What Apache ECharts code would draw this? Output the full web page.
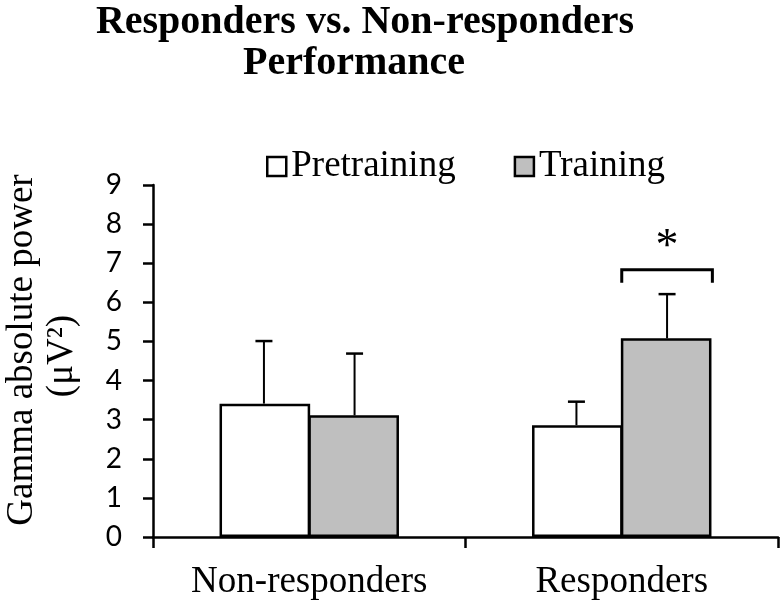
<!DOCTYPE html>
<html>
<head>
<meta charset="utf-8">
<script src="https://cdn.jsdelivr.net/npm/echarts@6/dist/echarts.min.js"></script>
<style>html,body{margin:0;padding:0;background:#fff;}#c{width:781px;height:602px;}</style>
</head>
<body>
<div id="c"></div>
<script>
var categories = ['Non-responders', 'Responders'];
var seriesNames = ['Pretraining', 'Training'];
var pretraining = [3.41, 2.86];
var training = [3.11, 5.08];
var pretrainingErrTop = [5.01, 3.46];
var trainingErrTop = [4.69, 6.21];
var yTicks = [0, 1, 2, 3, 4, 5, 6, 7, 8, 9];
var sigBracketY = [null, 6.83];
var sigBracketLegY = [null, 6.50];
var sigStarY = [null, 7.40];

var BAR_FRAC = 0.29;
var serif = '"Liberation Serif", "Times New Roman", serif';

function errSeries(values, tops, side) {
  return {
    type: 'custom',
    z: 5,
    silent: true,
    data: values.map(function (v, i) { return [i, v, tops[i]]; }),
    renderItem: function (params, api) {
      var cw = api.size([1, 0])[0];
      var bw = cw * BAR_FRAC;
      var base = api.coord([api.value(0), api.value(1)]);
      var top = api.coord([api.value(0), api.value(2)]);
      var x = base[0] + side * bw / 2;
      var cap = 8.5;
      return {
        type: 'group',
        children: [
          { type: 'line', shape: { x1: x, y1: base[1], x2: x, y2: top[1] }, style: { stroke: '#000', lineWidth: 2 } },
          { type: 'line', shape: { x1: x - cap, y1: top[1], x2: x + cap, y2: top[1] }, style: { stroke: '#000', lineWidth: 2.5 } }
        ]
      };
    }
  };
}

var sigData = [];
for (var i = 0; i < categories.length; i++) {
  if (sigBracketY[i] != null) sigData.push([i, sigBracketY[i], sigBracketLegY[i], sigStarY[i]]);
}

var option = {
  animation: false,
  backgroundColor: '#fff',
  grid: { left: 153, right: 3, top: 185, bottom: 65, containLabel: false },
  legend: {
    data: seriesNames,
    left: 261,
    top: 143,
    icon: 'rect',
    itemWidth: 19,
    itemHeight: 19,
    itemGap: 58,
    itemStyle: { borderWidth: 2.5, borderColor: '#000' },
    textStyle: { fontFamily: serif, fontSize: 37, color: '#000' }
  },
  xAxis: {
    type: 'category',
    data: categories,
    axisLine: { lineStyle: { color: '#000', width: 2.5 } },
    axisTick: { show: true, length: 11, alignWithLabel: false, lineStyle: { color: '#000', width: 2.5 } },
    axisLabel: { fontFamily: serif, fontSize: 37, color: '#000', margin: 27 }
  },
  yAxis: {
    type: 'value',
    min: 0,
    max: 9,
    interval: 1,
    splitLine: { show: false },
    axisLine: { show: true, lineStyle: { color: '#000', width: 2.5 } },
    axisTick: { show: true, length: 10, lineStyle: { color: '#000', width: 2.5 } },
    axisLabel: {
      fontFamily: 'Lato, "Open Sans", sans-serif', fontSize: 28, color: '#000', margin: 31,
      formatter: function (v) { return yTicks.indexOf(v) >= 0 ? String(v) : ''; }
    }
  },
  series: [
    {
      name: seriesNames[0], type: 'bar', data: pretraining,
      barWidth: (BAR_FRAC * 100) + '%', barGap: '-2%',
      itemStyle: { color: '#ffffff', borderColor: '#000', borderWidth: 2.5 }
    },
    {
      name: seriesNames[1], type: 'bar', data: training,
      barWidth: (BAR_FRAC * 100) + '%', barGap: '-2%',
      itemStyle: { color: '#bfbfbf', borderColor: '#000', borderWidth: 2.5 }
    },
    errSeries(pretraining, pretrainingErrTop, -1),
    errSeries(training, trainingErrTop, 1),
    {
      type: 'custom',
      silent: true,
      z: 6,
      data: sigData,
      renderItem: function (params, api) {
        var cw = api.size([1, 0])[0];
        var bw = cw * BAR_FRAC;
        var c = api.coord([api.value(0), api.value(1)]);
        var leg = api.coord([api.value(0), api.value(2)]);
        var star = api.coord([api.value(0), api.value(3)]);
        var x1 = c[0], x2 = c[0] + bw;
        return {
          type: 'group',
          children: [
            { type: 'polyline', shape: { points: [[x1, leg[1]], [x1, c[1]], [x2, c[1]], [x2, leg[1]]] }, style: { stroke: '#000', lineWidth: 3, fill: null } },
            { type: 'text', x: (x1 + x2) / 2, y: star[1], style: { text: '*', font: '46px ' + serif, fill: '#000', align: 'center', verticalAlign: 'middle' } }
          ]
        };
      }
    }
  ],
  graphic: [
    { type: 'text', x: 365, y: 23, style: { text: 'Responders vs. Non-responders', font: 'bold 40px ' + serif, fill: '#000', align: 'center', verticalAlign: 'middle' } },
    { type: 'text', x: 354, y: 64, style: { text: 'Performance', font: 'bold 40px ' + serif, fill: '#000', align: 'center', verticalAlign: 'middle' } },
    { type: 'text', x: 22, y: 350, rotation: Math.PI / 2, style: { text: 'Gamma absolute power', font: '37px ' + serif, fill: '#000', align: 'center', verticalAlign: 'middle' } },
    { type: 'text', x: 62, y: 356, rotation: Math.PI / 2, style: { text: '(\u03bcV\u00b2)', font: '37px ' + serif, fill: '#000', align: 'center', verticalAlign: 'middle' } }
  ]
};

var chart = echarts.init(document.getElementById('c'), null, { renderer: 'canvas' });
chart.setOption(option);
</script>
</body>
</html>
